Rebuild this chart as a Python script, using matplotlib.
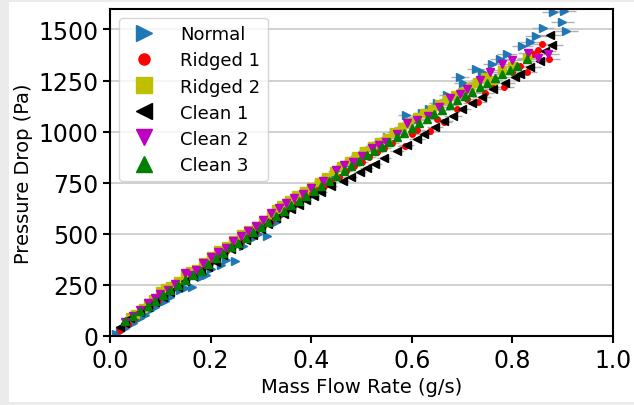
import matplotlib
matplotlib.use('AGG')
import matplotlib.pyplot as plt
from matplotlib.patches import Rectangle
import numpy as np

# mass flow rate (g/s) and pressure drop (Pa) per test section
normal_x = [0.012, 0.03, 0.045, 0.06, 0.08, 0.10, 0.12, 0.14, 0.163, 0.18, 0.20, 0.22, 0.249,
            0.28, 0.312, 0.34, 0.37, 0.40, 0.43, 0.46, 0.49, 0.52, 0.55, 0.588, 0.62, 0.65,
            0.67, 0.696, 0.702, 0.728, 0.76, 0.79, 0.82, 0.847, 0.861, 0.881, 0.899, 0.903, 0.907,
            0.02, 0.07, 0.09, 0.11, 0.15, 0.19, 0.23, 0.265, 0.295, 0.33, 0.355, 0.385, 0.415,
            0.445, 0.475, 0.505, 0.535, 0.565, 0.60, 0.635, 0.74, 0.775, 0.835]
normal_y = [10, 40, 65, 90, 125, 160, 190, 225, 239, 290, 330, 345, 366,
            475, 488, 590, 650, 715, 770, 820, 875, 925, 975, 1080, 1090, 1140,
            1180, 1265, 1240, 1305, 1330, 1380, 1420, 1466, 1505, 1583, 1534, 1588, 1490,
            25, 105, 140, 170, 235, 300, 370, 440, 500, 560, 625, 690, 745,
            790, 845, 905, 950, 1000, 1045, 1110, 1290, 1355, 1440]

ridged1_x = [0.02, 0.05, 0.08, 0.11, 0.14, 0.17, 0.20, 0.23, 0.26, 0.29, 0.32, 0.35, 0.38,
             0.41, 0.44, 0.47, 0.50, 0.53, 0.56, 0.586, 0.61, 0.636, 0.664, 0.69, 0.71,
             0.732, 0.76, 0.783, 0.80, 0.829, 0.841, 0.859, 0.873,
             0.035, 0.095, 0.125, 0.155, 0.185, 0.215, 0.245, 0.275, 0.305, 0.335, 0.365,
             0.395, 0.425, 0.455, 0.485, 0.515, 0.545, 0.60, 0.65, 0.745, 0.815, 0.85]
ridged1_y = [30, 90, 148, 205, 262, 315, 360, 415, 462, 515, 565, 610, 665,
             712, 760, 805, 850, 900, 945, 928, 1010, 1001, 1045, 1110, 1160,
             1143, 1220, 1216, 1290, 1290, 1378, 1431, 1353,
             60, 175, 235, 290, 335, 390, 440, 490, 540, 590, 640,
             690, 735, 780, 830, 875, 920, 990, 1060, 1190, 1320, 1400]

ridged2_x = [0.04, 0.065, 0.085, 0.10, 0.12, 0.15, 0.17, 0.20, 0.23, 0.26, 0.29, 0.32, 0.34,
             0.37, 0.40, 0.43, 0.46, 0.49, 0.52, 0.55, 0.58, 0.61, 0.64, 0.67, 0.70, 0.73,
             0.761, 0.78, 0.80, 0.83,
             0.05, 0.075, 0.11, 0.135, 0.16, 0.185, 0.215, 0.245, 0.275, 0.305, 0.33, 0.355,
             0.385, 0.415, 0.445, 0.475, 0.505, 0.535, 0.565, 0.595, 0.625, 0.655, 0.685,
             0.715, 0.745]
ridged2_y = [95, 135, 180, 220, 245, 300, 330, 390, 440, 500, 540, 595, 640,
             690, 730, 780, 830, 880, 930, 970, 1025, 1070, 1110, 1160, 1195, 1245,
             1255, 1300, 1319, 1360,
             110, 160, 235, 270, 320, 360, 420, 470, 520, 570, 620, 665,
             710, 755, 805, 855, 905, 950, 1000, 1045, 1090, 1135, 1180,
             1220, 1265]

clean1_x = [0.02, 0.04, 0.06, 0.09, 0.12, 0.15, 0.18, 0.21, 0.24, 0.27, 0.30, 0.33, 0.36,
            0.39, 0.42, 0.44, 0.463, 0.497, 0.527, 0.57, 0.61, 0.646, 0.682, 0.739, 0.762,
            0.805, 0.815, 0.855, 0.879, 0.875,
            0.03, 0.075, 0.105, 0.135, 0.165, 0.195, 0.225, 0.255, 0.285, 0.315, 0.345,
            0.375, 0.405, 0.48, 0.51, 0.545, 0.59, 0.625, 0.665, 0.70, 0.72, 0.785, 0.835, 0.865]
clean1_y = [45, 88, 115, 165, 215, 270, 320, 360, 425, 470, 525, 575, 620,
            665, 705, 735, 757, 801, 840, 904, 962, 1021, 1075, 1167, 1211,
            1265, 1280, 1348, 1426, 1475,
            65, 140, 190, 240, 295, 340, 395, 445, 495, 550, 595,
            640, 685, 780, 820, 870, 935, 990, 1050, 1110, 1140, 1240, 1315, 1395]

clean2_x = [0.03, 0.06, 0.09, 0.115, 0.15, 0.17, 0.20, 0.23, 0.26, 0.29, 0.32, 0.35, 0.384,
            0.424, 0.45, 0.483, 0.52, 0.549, 0.59, 0.632, 0.676, 0.71, 0.736, 0.779, 0.831, 0.871,
            0.045, 0.075, 0.10, 0.13, 0.16, 0.185, 0.215, 0.245, 0.275, 0.305, 0.335, 0.365,
            0.40, 0.465, 0.50, 0.535, 0.57, 0.61, 0.655, 0.695, 0.755, 0.80, 0.85]
clean2_y = [70, 125, 185, 225, 310, 325, 385, 430, 490, 540, 600, 650, 694,
            757, 810, 850, 920, 948, 1040, 1075, 1163, 1210, 1255, 1329, 1387, 1382,
            100, 160, 205, 255, 300, 355, 410, 465, 515, 570, 625, 675,
            725, 835, 880, 935, 990, 1055, 1120, 1185, 1290, 1350, 1360]

clean3_x = [0.03, 0.06, 0.09, 0.12, 0.15, 0.18, 0.21, 0.24, 0.27, 0.30, 0.33, 0.36, 0.39,
            0.42, 0.45, 0.48, 0.51, 0.54, 0.57, 0.60, 0.63, 0.66, 0.69, 0.72, 0.75, 0.78,
            0.81, 0.83,
            0.045, 0.075, 0.105, 0.135, 0.165, 0.195, 0.225, 0.255, 0.285, 0.315, 0.345,
            0.375, 0.405, 0.435, 0.465, 0.495, 0.525, 0.555, 0.585, 0.615, 0.645, 0.675,
            0.705, 0.735, 0.765, 0.795]
clean3_y = [75, 120, 170, 225, 275, 320, 380, 435, 480, 535, 585, 640, 685,
            735, 785, 830, 885, 925, 975, 1020, 1060, 1105, 1155, 1195, 1240, 1280,
            1320, 1355,
            100, 145, 200, 250, 300, 350, 405, 455, 510, 560, 610,
            660, 710, 760, 805, 855, 905, 950, 995, 1040, 1085, 1130,
            1175, 1220, 1260, 1300]

flow_uncert = 0.025  # relative uncertainty of flow meter

# name, x, y, marker, colour, marker size
series = [
    ('Normal', normal_x, normal_y, '>', '#1f77b4', 5.5),
    ('Ridged 1', ridged1_x, ridged1_y, 'o', 'r', 4.0),
    ('Ridged 2', ridged2_x, ridged2_y, 's', 'y', 5.5),
    ('Clean 1', clean1_x, clean1_y, '<', 'k', 5.5),
    ('Clean 2', clean2_x, clean2_y, 'v', 'm', 5.5),
    ('Clean 3', clean3_x, clean3_y, '^', 'g', 5.5),
]

fig = plt.figure(figsize=(6.34, 4.06), dpi=100, facecolor='#ebebeb')
# white page area inside the grey screenshot frame
fig.patches.append(Rectangle((9 / 634, 3 / 406), 625 / 634, 400 / 406,
                             transform=fig.transFigure, facecolor='white',
                             edgecolor='none', zorder=-10))
ax = fig.add_axes([110 / 634, 69 / 406, 503 / 634, 327 / 406])

handles = []
labels = []
for name, x, y, m, c, ms in series:
    x = np.array(x)
    cont = ax.errorbar(x, y, xerr=flow_uncert * x, fmt=m, color=c, ms=ms,
                       ecolor='#b0b0b0', elinewidth=1)
    handles.append(cont[0])
    labels.append(name)

ax.set_xlim(0, 1.0)
ax.set_ylim(0, 1600)
ax.set_yticks([0, 250, 500, 750, 1000, 1250, 1500])
ax.set_xticks([0.0, 0.2, 0.4, 0.6, 0.8, 1.0])
ax.grid(axis='y', color='#c8c8c8', linewidth=1.2)
ax.set_axisbelow(True)
ax.tick_params(labelsize=17, width=1.5, length=5)
for s in ax.spines.values():
    s.set_linewidth(1.5)
ax.set_xlabel('Mass Flow Rate (g/s)', fontsize=14)
ax.set_ylabel('Pressure Drop (Pa)', fontsize=14)
ax.legend(handles, labels, loc='upper left', fontsize=13, markerscale=2.0,
          handletextpad=1.0, borderpad=0.4, labelspacing=0.45)

plt.savefig('out.png', dpi=100, facecolor=fig.get_facecolor())
